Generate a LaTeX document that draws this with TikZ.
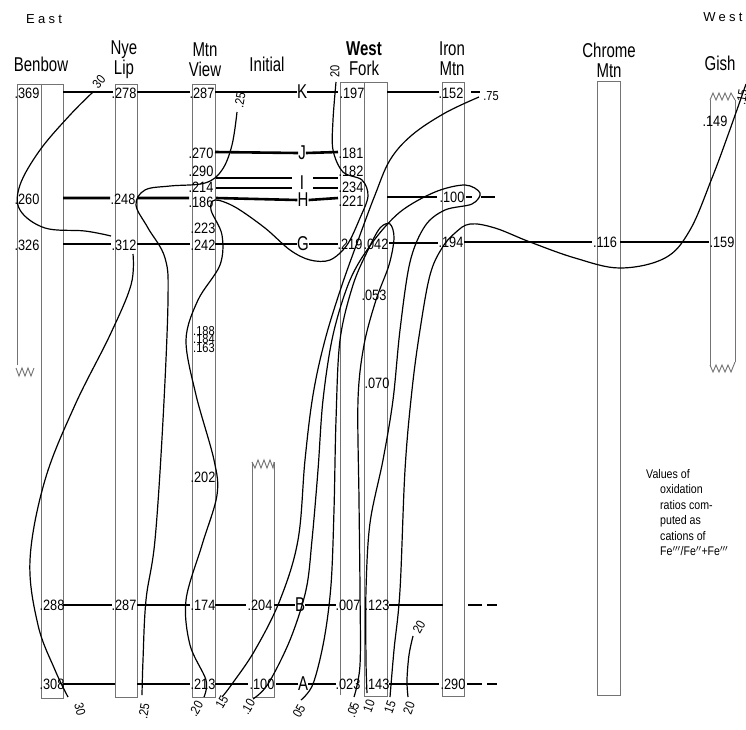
\documentclass[tikz,border=0pt]{standalone}
\usepackage{fontspec}
\setmainfont{Liberation Sans}
\newfontfamily\condf[FakeStretch=0.75]{Liberation Sans}
\newfontfamily\valf[FakeStretch=0.85]{Liberation Sans}
\newfontfamily\spacedf[LetterSpace=25]{Liberation Sans}
\begin{document}
\begin{tikzpicture}[x=1pt,y=-1pt,
  colline/.style={draw=black!55, line width=0.9pt},
  rowline/.style={line width=2.6pt},
  iso/.style={line width=1.2pt},
  val/.style={font=\valf\fontsize{15}{15}\selectfont, inner sep=0pt},
  hd/.style={font=\condf\fontsize{20}{20}\selectfont, align=center, inner sep=0pt},
  lt/.style={font=\condf\fontsize{20}{20}\selectfont, inner sep=0pt},
  cl/.style={font=\valf\fontsize{13}{13}\selectfont, inner sep=0pt},
  note/.style={font=\valf\fontsize{12.5}{15.5}\selectfont, align=left, inner sep=0pt}]
\useasboundingbox[fill=white] (0,0) rectangle (746,729);

% ---------- headings ----------
\node[font=\spacedf\fontsize{13}{13}\selectfont, inner sep=0pt] (east) at (44,19) {East};
\node[font=\spacedf\fontsize{13}{13}\selectfont, inner sep=0pt] (west) at (723,17) {West};
\node[hd] (hbenbow) at (41,64) {Benbow};
\node[hd] (hnye) at (124,60) {Nye\\Lip};
\node[hd] (hmtn) at (205,60) {Mtn\\View};
\node[hd] (hinit) at (267,64) {Initial};
\node[hd] (hwest) at (364,59) {\textbf{West}\\Fork};
\node[hd] (hiron) at (452,59) {Iron\\Mtn};
\node[hd] (hchrome) at (609,60) {Chrome\\Mtn};
\node[hd] (hgish) at (720,63) {Gish};

% ---------- columns ----------
% Benbow
\draw[colline] (17,365) -- (17,84) -- (63,84) -- (63,698) -- (41,698) -- (41,84);
\draw[colline] (16,368) -- (19,376) -- (22,368) -- (25,376) -- (28,368) -- (31,376) -- (34,368);
% Nye Lip
\draw[colline] (115,84) rectangle (137,697);
% Mtn View
\draw[colline] (192,84) rectangle (215,697);
% Initial
\draw[colline] (252,462) -- (252,697) -- (274,697) -- (274,462);
\draw[colline] (252,462) -- (255,468) -- (258,460) -- (261,468) -- (264,460) -- (267,468) -- (270,460) -- (273,468) -- (274,462);
% West Fork
\draw[colline] (340,695) -- (340,82) -- (387,82) -- (387,696) -- (364,696) -- (364,82);
% Iron Mtn
\draw[colline] (442,82) rectangle (464,696);
% Chrome Mtn
\draw[colline] (597,81) rectangle (620,695);
% Gish
\draw[colline] (710,100) -- (710,367);
\draw[colline] (735,100) -- (735,362);
\draw[colline] (710,100) -- (713,93) -- (716,100) -- (719,93) -- (722,100) -- (725,93) -- (728,100) -- (731,93) -- (735,100);
\draw[colline] (710,365) -- (713,372) -- (716,365) -- (719,372) -- (722,365) -- (725,372) -- (728,365) -- (731,372) -- (735,362);

% ---------- row letters ----------
\node[lt] (K) at (302,92) {K};
\node[lt] (J) at (302,153) {J};
\node[lt] (I) at (302,183) {I};
\node[lt] (H) at (303,200) {H};
\node[lt] (G) at (303,244) {G};
\node[lt] (B) at (300,605) {B};
\node[lt] (A) at (303,684) {A};

% ---------- values ----------
\node[val] (k1) at (27,93) {.369};
\node[val] (k2) at (124,93) {.278};
\node[val] (k3) at (202,93) {.287};
\node[val] (k4) at (352,93) {.197};
\node[val] (k5) at (451,93) {.152};
\node[val] (g6) at (715,121) {.149};

\node[val] (j3) at (201,153) {.270};
\node[val] (j4) at (351,153) {.181};

\node[val] (i3a) at (201,171) {.290};
\node[val] (i3b) at (201,187) {.214};
\node[val] (h3) at (201,202) {.186};
\node[val] (i4a) at (351,171) {.182};
\node[val] (i4b) at (351,187) {.234};
\node[val] (h4) at (351,201) {.221};
\node[val] (h1) at (27,199) {.260};
\node[val] (h2) at (123,199) {.248};
\node[val] (c5) at (452,197) {.100};

\node[val] (g1) at (27,245) {.326};
\node[val] (g2) at (124,245) {.312};
\node[val] (g3a) at (203,228) {.223};
\node[val] (g3) at (203,245) {.242};
\node[val] (g4) at (350,244) {.219};
\node[val] (g4b) at (376,244) {.042};
\node[val] (g5) at (451,242) {.194};
\node[val] (g7) at (605,242) {.116};
\node[val] (g8) at (722,242) {.159};

\node[val, font=\valf\fontsize{13}{13}\selectfont] (m1) at (204,331) {.188};
\node[val, font=\valf\fontsize{13}{13}\selectfont] (m2) at (204,339) {.184};
\node[val, font=\valf\fontsize{13}{13}\selectfont] (m3) at (204,348) {.163};
\node[val] (m4) at (203,477) {.202};
\node[val] (w1) at (374,295) {.053};
\node[val] (w2) at (377,383) {.070};

\node[val] (b1) at (52,605) {.288};
\node[val] (b2) at (124,605) {.287};
\node[val] (b3) at (203,605) {.174};
\node[val] (b4) at (260,605) {.204};
\node[val] (b5) at (348,605) {.007};
\node[val] (b6) at (377,605) {.123};

\node[val] (a1) at (52,684) {.308};
\node[val] (a3) at (203,684) {.213};
\node[val] (a4) at (262,684) {.100};
\node[val] (a5) at (348,684) {.023};
\node[val] (a6) at (377,684) {.143};
\node[val] (a7) at (453,684) {.290};

% ---------- row lines ----------
% K
\draw[rowline] (63,92) -- (113,92) (137,92) -- (190,92) (215,92) -- (K.west) (K.east) -- (338,92)
  (387,92) -- (439,92) (471,92) -- (480,92);
% J
\draw[rowline] (215,152) -- (J.west) (J.east) -- (338,152);
% I (double)
\draw[rowline] (216,178) -- (292,178) (216,188) -- (292,188) (313,178) -- (338,178) (313,188) -- (338,188);
% H
\draw[rowline] (63,198) -- (110,198) (137,198) -- (189,198) (216,198) -- (H.west) (H.east) -- (338,198);
% .100 at Iron Mtn
\draw[rowline] (387,197) -- (437,197) (466,197) -- (472,197) (481,197) -- (495,197);
% G
\draw[rowline] (63,244) -- (111,244) (137,244) -- (190,244) (215,244) -- (G.west) (G.east) -- (338,244)
  (389,243) -- (438,243) (464,242) -- (592,242) (620,242) -- (709,242);
% B
\draw[rowline] (63,605) -- (112,605) (137,605) -- (190,605) (215,605) -- (246,605) (274,605) -- (B.west)
  (B.east) -- (336,605) (389,605) -- (443,605) (468,605) -- (482,605) (487,605) -- (497,605);
% A
\draw[rowline] (63,684) -- (115,684) (137,684) -- (190,684) (215,684) -- (248,684) (276,684) -- (A.west)
  (A.east) -- (336,684) (389,684) -- (439,684) (467,684) -- (482,684) (487,684) -- (497,684);

% ---------- isolines ----------
% .30
\draw[iso] plot[smooth, tension=0.6] coordinates {(93,92) (70,115) (40,150) (20,185) (20,210) (45,228) (85,231) (111,236)};
\draw[iso] plot[smooth, tension=0.6] coordinates {(133,254) (131,285) (110,335) (75,405) (45,480) (30,560) (38,625) (55,670) (68,697)};
\node[cl, rotate=50] (t30) at (99,82) {30};
\node[cl, rotate=-75] (b30) at (80,709) {30};
% .25
\draw[iso] plot[smooth, tension=0.6] coordinates {(237,112) (232,145) (222,170) (205,183) (170,186) (145,190) (136,205) (148,228) (165,258) (168,300) (163,420) (155,540) (146,600) (143,660) (142,695)};
\node[cl, rotate=80] (t25) at (240,100) {.25};
\node[cl, rotate=80] (b25) at (144,711) {.25};
% .20 (West Fork top to Mtn View bottom)
\draw[iso] plot[smooth, tension=0.55] coordinates {(336,82) (333,120) (333,150) (343,172) (362,180) (368,196) (360,218) (347,245) (330,260) (310,260) (290,250) (265,228) (235,207) (215,200) (211,210) (222,235) (220,265) (198,300) (186,340) (196,395) (214,460) (217,495) (202,545) (186,600) (190,645) (206,680) (204,697)};
\node[cl, rotate=90] (t20) at (335,71) {20};
\node[cl, rotate=60] (b20) at (196,709) {.20};
% .15 long (top right of Iron Mtn to Mtn View bottom)
\draw[iso] plot[smooth, tension=0.6] coordinates {(479,97) (445,113) (412,135) (390,160) (375,195) (360,235) (342,285) (325,340) (313,395) (305,460) (298,540) (280,600) (255,650) (232,684) (222,697)};
\node[cl] (t75) at (491,96) {.75};
\node[cl, rotate=60] (b15a) at (222,702) {15};
% .10
\draw[iso] plot[smooth, tension=0.55] coordinates {(253,699) (268,684) (290,640) (306,590) (312,540) (318,470) (323,400) (333,335) (350,280) (372,243) (400,212) (435,192) (465,185) (480,193) (472,204) (445,210) (425,226) (410,262) (400,330) (393,400) (383,460) (370,523) (366,590) (366,660) (367,693)};
\node[cl, rotate=60] (b10a) at (248,707) {.10};
\node[cl, rotate=70] (b10b) at (369,706) {10};
% .05
\draw[iso] plot[smooth, tension=0.55] coordinates {(301,700) (313,684) (324,640) (331,585) (334,510) (336,420) (340,340) (353,285) (368,250) (380,228) (390,224) (394,238) (389,265) (376,300) (364,345) (358,400) (359,500) (360,590) (360,665) (354,697)};
\node[cl, rotate=60] (b05a) at (299,711) {05};
\node[cl, rotate=70] (b05b) at (353,710) {.05};
% .15 right (Gish to West Fork bottom)
\draw[iso] plot[smooth, tension=0.6] coordinates {(746,84) (728,135) (712,178) (690,230) (665,258) (620,268) (575,258) (530,242) (495,228) (470,224) (455,233) (442,248) (430,275) (420,330) (412,390) (405,470) (400,590) (394,650) (390,697)};
\node[cl, rotate=80] (t15g) at (742,97) {.15};
\node[cl, rotate=70] (b15b) at (390,707) {15};
% .20 short
\draw[iso] plot[smooth, tension=0.6] coordinates {(413,636) (409,655) (407,680) (408,697)};
\node[cl, rotate=60] (t20b) at (419,627) {20};
\node[cl, rotate=70] (b20b) at (409,708) {20};

% ---------- note ----------
\node[note, anchor=north west] (noteA) at (646,469) {Values of\\
\hspace*{14pt}oxidation\\
\hspace*{14pt}ratios com-\\
\hspace*{14pt}puted as\\
\hspace*{14pt}cations of\\
\hspace*{14pt}Fe$^{\prime\prime\prime}$/Fe$^{\prime\prime}$+Fe$^{\prime\prime\prime}$};
\end{tikzpicture}
\end{document}
